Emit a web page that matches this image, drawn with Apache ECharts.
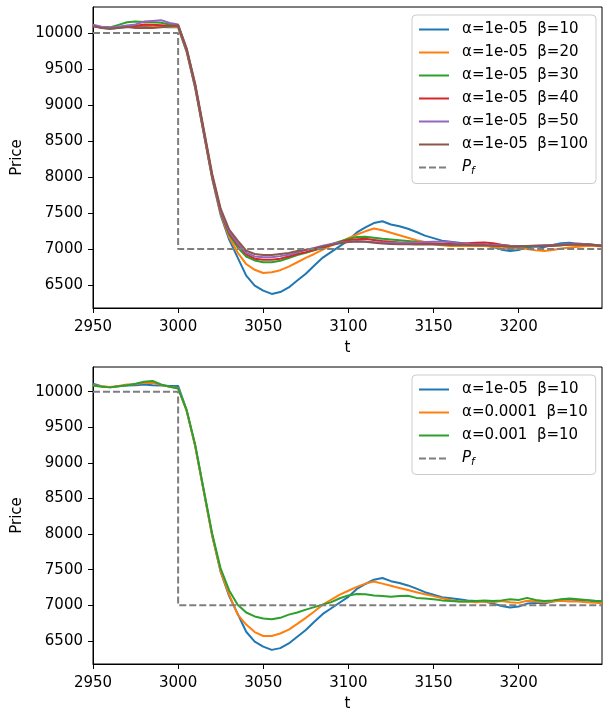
<!DOCTYPE html>
<html>
<head>
<meta charset="utf-8">
<script src="https://cdn.jsdelivr.net/npm/echarts@6/dist/echarts.min.js"></script>
<style>
html,body{margin:0;padding:0;background:#fff;}
#c{width:603px;height:713px;}
</style>
</head>
<body>
<div id="c"></div>
<script>
const t = [2950,2955,2960,2965,2970,2975,2980,2985,2990,2995,3000,3005,3010,3015,3020,3025,3030,3035,3040,3045,3050,3055,3060,3065,3070,3075,3080,3085,3090,3095,3100,3105,3110,3115,3120,3125,3130,3135,3140,3145,3150,3155,3160,3165,3170,3175,3180,3185,3190,3195,3200,3205,3210,3215,3220,3225,3230,3235,3240,3245,3249];

const a1e5_b10 = [10110,10075,10060,10075,10085,10090,10100,10090,10085,10080,10080,9740,9240,8610,7980,7470,7130,6880,6630,6490,6420,6375,6400,6465,6560,6655,6770,6880,6960,7040,7120,7230,7300,7360,7385,7340,7315,7280,7235,7185,7150,7115,7100,7085,7070,7060,7055,7025,6990,6970,6985,7025,7035,7025,7055,7080,7085,7070,7070,7055,7040];
const a1e5_b20 = [10100,10080,10070,10080,10095,10100,10110,10100,10095,10090,10090,9750,9250,8620,7990,7490,7165,6950,6790,6710,6665,6675,6705,6755,6815,6875,6930,6990,7045,7095,7150,7200,7245,7285,7260,7225,7190,7155,7120,7095,7065,7050,7040,7040,7045,7040,7040,7030,7010,7015,7010,7000,6980,6970,6985,7005,7020,7030,7040,7040,7035];
const a1e5_b30 = [10100,10080,10080,10115,10150,10160,10155,10150,10145,10120,10100,9760,9260,8630,8000,7505,7200,7020,6895,6840,6815,6815,6835,6875,6915,6945,6980,7015,7065,7105,7140,7165,7170,7155,7140,7130,7120,7110,7100,7080,7070,7060,7060,7055,7065,7070,7060,7045,7040,7035,7030,7035,7040,7045,7045,7050,7060,7065,7060,7050,7045];
const a1e5_b40 = [10100,10080,10070,10080,10095,10100,10120,10115,10110,10100,10105,9765,9270,8640,8010,7515,7220,7060,6925,6865,6850,6850,6865,6895,6930,6955,6990,7020,7060,7095,7120,7135,7140,7125,7110,7100,7090,7085,7080,7075,7075,7070,7070,7075,7080,7085,7090,7080,7060,7045,7040,7040,7045,7040,7045,7055,7060,7065,7060,7050,7040];
const a1e5_b50 = [10115,10090,10075,10090,10105,10120,10160,10170,10180,10140,10120,9780,9285,8655,8025,7530,7240,7080,6945,6895,6885,6885,6900,6920,6955,6985,7015,7045,7070,7090,7100,7110,7105,7095,7090,7085,7085,7090,7090,7095,7100,7100,7095,7080,7070,7060,7060,7055,7050,7040,7035,7040,7045,7050,7055,7060,7070,7075,7065,7055,7045];
const a1e5_b100 = [10095,10070,10060,10070,10085,10070,10075,10070,10080,10095,10110,9790,9300,8675,8045,7560,7270,7115,6975,6930,6915,6915,6930,6945,6970,6990,7005,7030,7055,7080,7095,7105,7100,7085,7075,7070,7065,7065,7060,7060,7065,7060,7055,7060,7055,7050,7050,7045,7040,7035,7035,7040,7040,7045,7050,7050,7060,7065,7060,7055,7045];
const a1e4_b10 = [10090,10075,10065,10080,10100,10105,10125,10120,10095,10070,10050,9730,9240,8610,7980,7475,7150,6870,6730,6625,6570,6570,6605,6660,6740,6825,6915,7010,7080,7150,7205,7260,7305,7335,7305,7275,7245,7215,7185,7155,7130,7100,7075,7055,7055,7045,7055,7045,7060,7045,7035,7065,7055,7045,7055,7065,7055,7055,7045,7035,7030];
const a1e3_b10 = [10085,10070,10060,10075,10090,10110,10140,10150,10100,10070,10045,9740,9260,8630,8010,7515,7210,7010,6900,6845,6815,6805,6825,6870,6900,6940,6975,7010,7045,7100,7140,7160,7155,7140,7130,7120,7130,7135,7105,7095,7085,7070,7060,7055,7055,7060,7070,7060,7070,7085,7075,7105,7075,7060,7070,7085,7095,7085,7075,7065,7060];

const pfT = [2950,3000,3000,3249];
const pfV = [10000,10000,7000,7000];

const topNames = ['α=1e-05  β=10','α=1e-05  β=20','α=1e-05  β=30','α=1e-05  β=40','α=1e-05  β=50','α=1e-05  β=100'];
const botNames = ['α=1e-05  β=10','α=0.0001  β=10','α=0.001  β=10'];
const pfName = 'Pf';

const xTicks = [2950,3000,3050,3100,3150,3200];
const yTicks = [6500,7000,7500,8000,8500,9000,9500,10000];

const colors = ['#1f77b4','#ff7f0e','#2ca02c','#d62728','#9467bd','#8c564b'];
const FONT = 'DejaVu Sans';
const FS = 15;

const pairs = (xs, ys) => xs.map((x,i)=>[x, ys[i]]);

const topData = [a1e5_b10,a1e5_b20,a1e5_b30,a1e5_b40,a1e5_b50,a1e5_b100];
const botData = [a1e5_b10,a1e4_b10,a1e3_b10];

const series = [];
topData.forEach((d,i)=>series.push({
  name: topNames[i], type:'line', xAxisIndex:0, yAxisIndex:0, symbol:'none',
  data: pairs(t,d), lineStyle:{color:colors[i], width:2}, itemStyle:{color:colors[i]}
}));
series.push({name:pfName,type:'line',xAxisIndex:0,yAxisIndex:0,symbol:'none',
  data:pairs(pfT,pfV), lineStyle:{color:'#7f7f7f',width:2,type:[7,3]}, itemStyle:{color:'#7f7f7f'}});
botData.forEach((d,i)=>series.push({
  name: botNames[i], type:'line', xAxisIndex:1, yAxisIndex:1, symbol:'none',
  data: pairs(t,d), lineStyle:{color:colors[i], width:2}, itemStyle:{color:colors[i]}
}));
series.push({name:pfName,type:'line',xAxisIndex:1,yAxisIndex:1,symbol:'none',
  data:pairs(pfT,pfV), lineStyle:{color:'#7f7f7f',width:2,type:[7,3]}, itemStyle:{color:'#7f7f7f'}});

function xAx(idx){
  return {type:'value', gridIndex:idx, min:2950, max:3249,
    name:'t', nameLocation:'middle', nameGap:33,
    nameTextStyle:{color:'#000', fontFamily:FONT, fontSize:FS},
    axisLine:{show:true, onZero:false, lineStyle:{color:'#000',width:1}},
    axisTick:{show:true, length:5, lineStyle:{color:'#000'}, customValues:xTicks},
    axisLabel:{color:'#000', fontFamily:FONT, fontSize:FS, margin:12, customValues:xTicks, formatter:v=>String(v)},
    splitLine:{show:false}};
}
function yAx(idx,min,max){
  return {type:'value', gridIndex:idx, min:min, max:max,
    name:'Price', nameLocation:'middle', nameGap:58, nameRotate:90,
    nameTextStyle:{color:'#000', fontFamily:FONT, fontSize:FS},
    axisLine:{show:true, onZero:false, lineStyle:{color:'#000',width:1}},
    axisTick:{show:true, length:5, lineStyle:{color:'#000'}, customValues:yTicks},
    axisLabel:{color:'#000', fontFamily:FONT, fontSize:FS, margin:10, customValues:yTicks, formatter:v=>String(v)},
    splitLine:{show:false}};
}
function leg(names, top){
  return {data: names.concat([pfName]), left:412, top:top, orient:'vertical',
    itemWidth:30, itemHeight:14, itemGap:8, padding:[7,8,7,6],
    backgroundColor:'rgba(255,255,255,0.8)', borderColor:'#cccccc', borderWidth:1, borderRadius:4,
    selectedMode:false,
    itemStyle:{opacity:0, borderWidth:0},
    lineStyle:{width:2},
    textStyle:{color:'#000', fontFamily:FONT, fontSize:FS, padding:[0,0,0,8],
      rich:{i:{fontStyle:'italic', fontFamily:FONT, fontSize:FS, color:'#000'},
            s:{fontStyle:'italic', fontFamily:FONT, fontSize:10.5, color:'#000', padding:[7,0,0,0]}}},
    formatter: n => n===pfName ? '{i|P}{s|f}' : n};
}

const chart = echarts.init(document.getElementById('c'), null, {renderer:'canvas'});
chart.setOption({
  animation:false,
  backgroundColor:'#fff',
  grid:[{left:93, top:7, right:1, height:301, show:true, borderColor:'#000', borderWidth:1, containLabel:false},
        {left:93, top:367, right:1, height:301, show:true, borderColor:'#000', borderWidth:1, containLabel:false}],
  xAxis:[xAx(0), xAx(1)],
  yAxis:[yAx(0,6179,10363), yAx(1,6177,10346)],
  legend:[leg(topNames,15), leg(botNames,375)],
  series: series
});
</script>
</body>
</html>
